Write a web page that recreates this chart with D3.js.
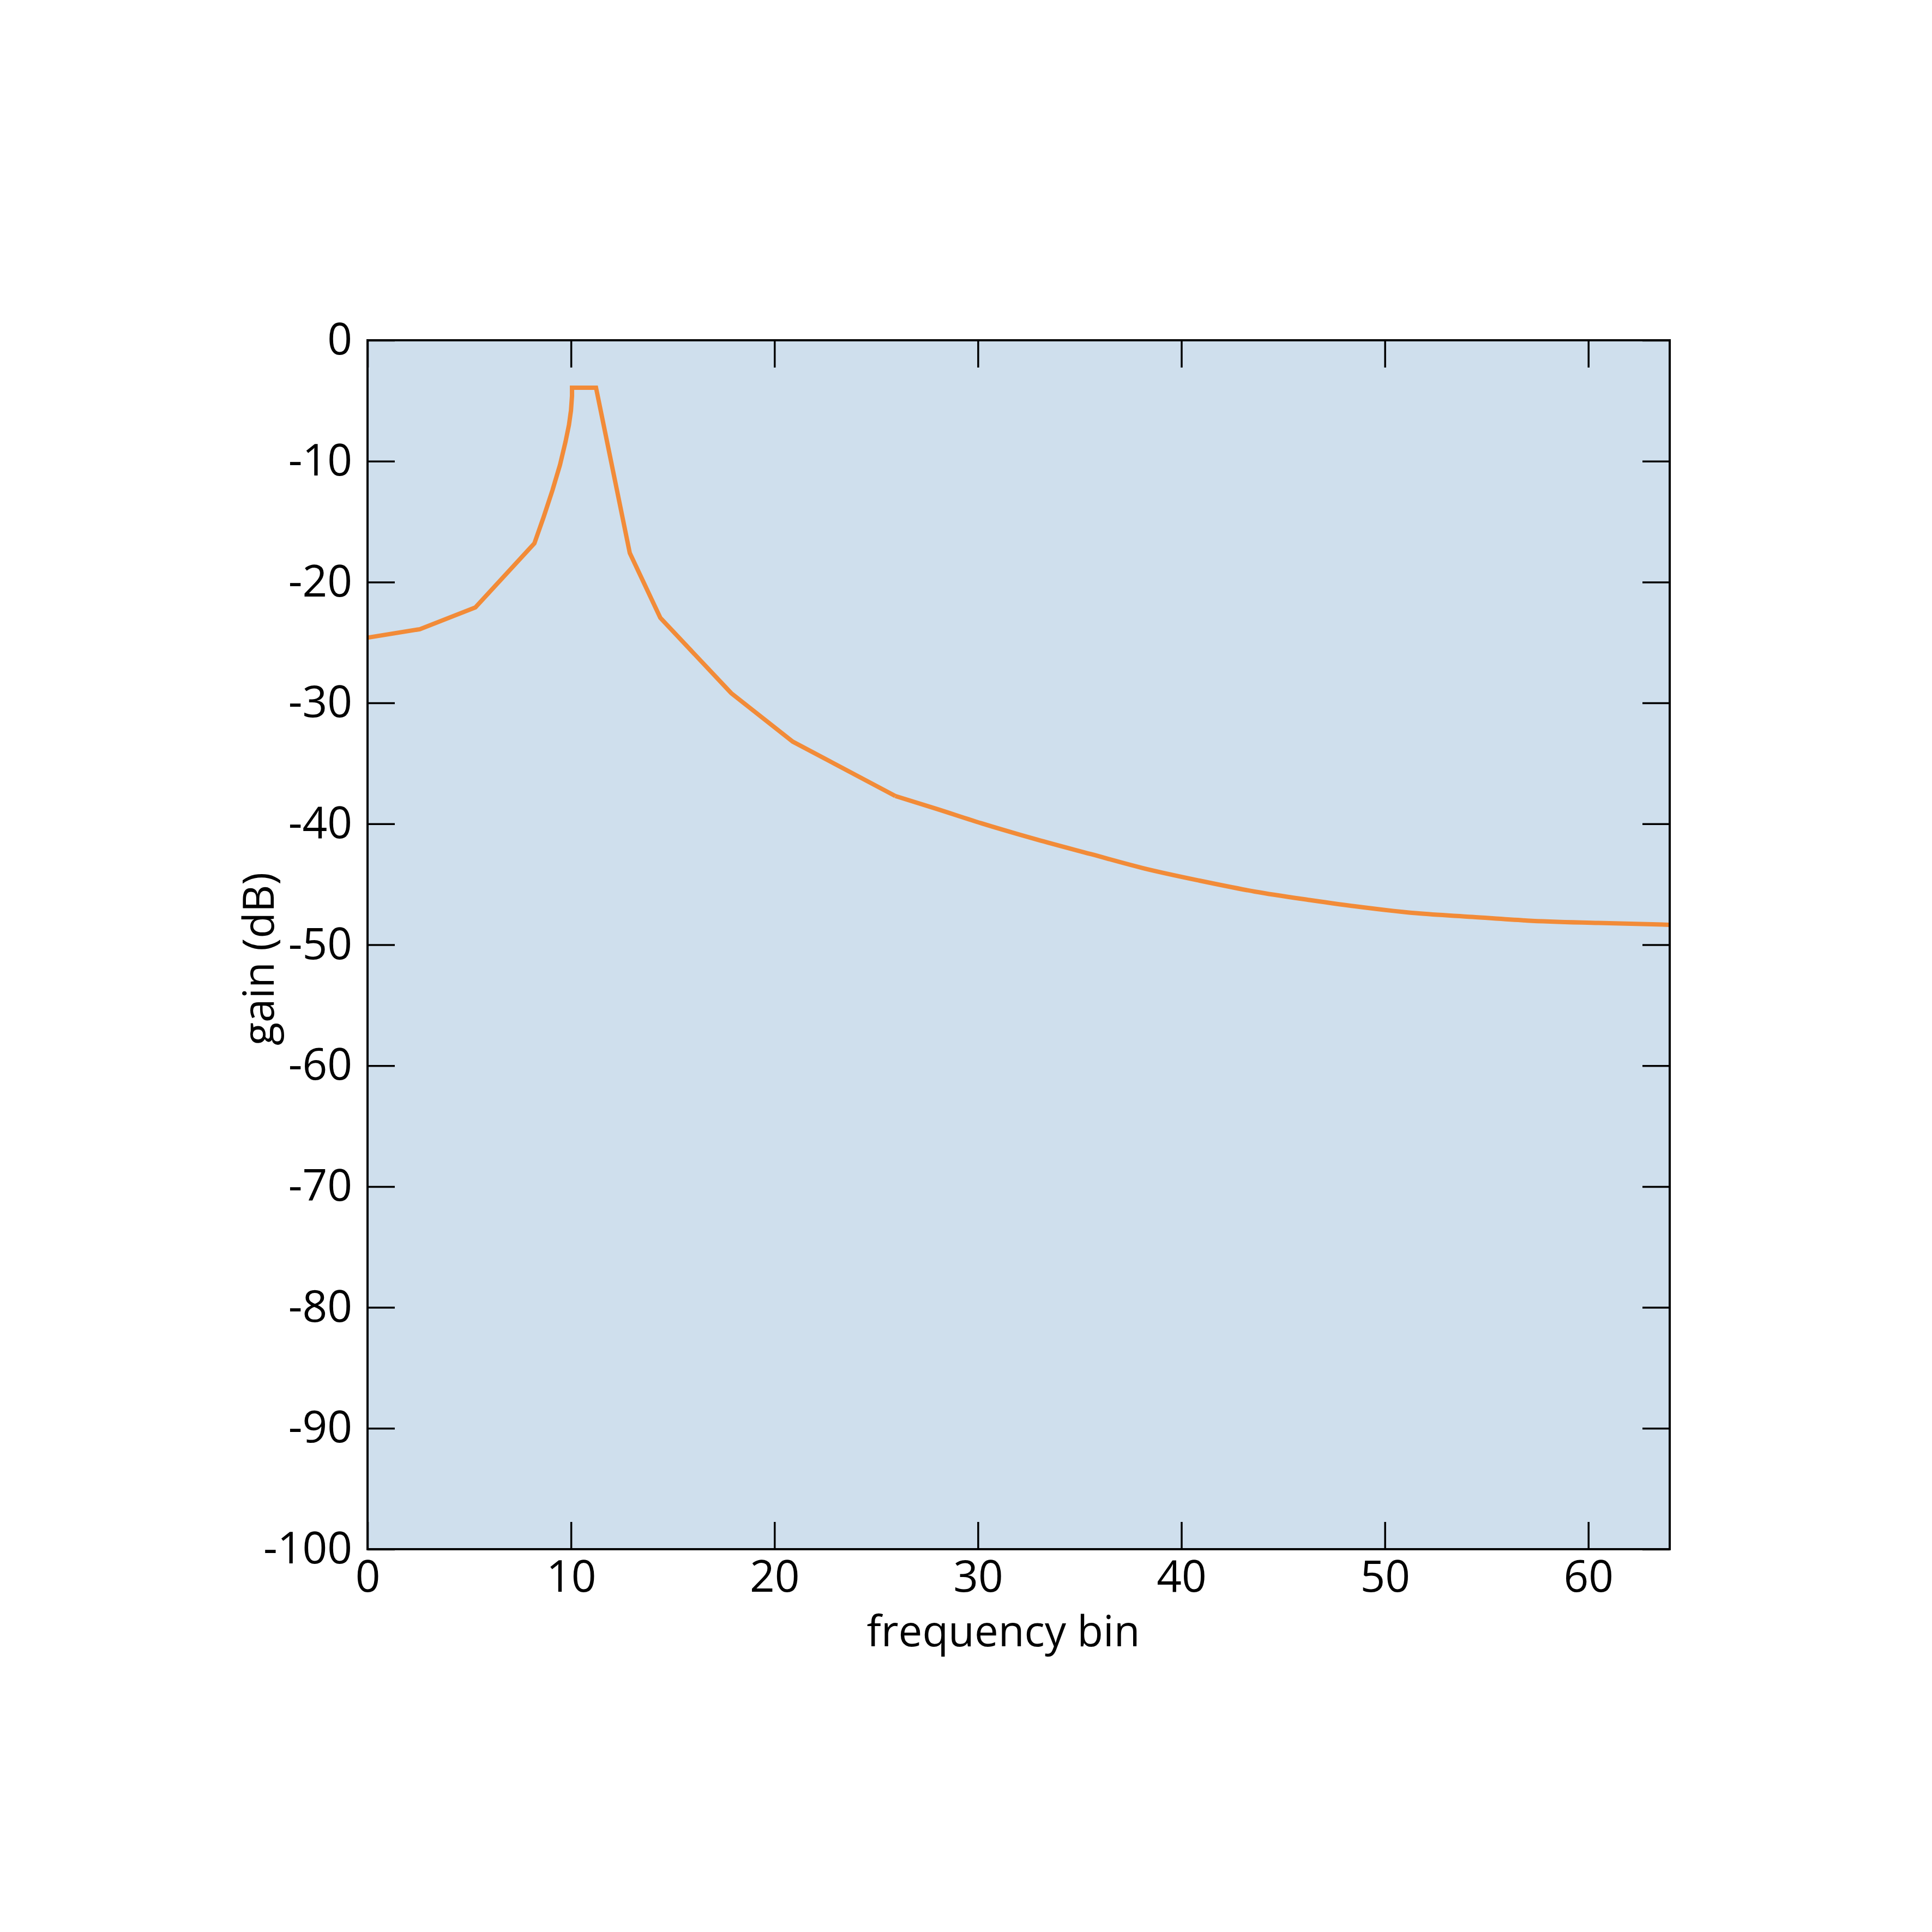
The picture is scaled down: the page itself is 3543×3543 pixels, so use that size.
<!DOCTYPE html>
<html>
<head>
<meta charset="utf-8">
<script src="https://cdn.jsdelivr.net/npm/d3@7"></script>
<style>
  body { margin: 0; background: #fff; }
  svg { display: block; }
</style>
</head>
<body>
<div id="viz"></div>
<script>
const width = 3543;
const height = 3543;
const margin = {top: 624, right: 481, bottom: 702, left: 674};
const font = '"Open Sans", sans-serif';

// frequency response
const bins = [0, 2.57, 5.3, 8.2, 8.66, 9.09, 9.46, 9.73, 9.9, 10.0, 10.05, 10.05, 11.23, 12.89, 14.39, 17.88, 20.9,
  25.94, 27.95, 30.18, 32.9, 35.54, 38.2, 40.9, 43.6, 46.3, 48.9, 51.6, 54.3, 57.0, 60.5, 64];
const gainDb = [-24.6, -23.9, -22.1, -16.8, -14.6, -12.4, -10.3, -8.4, -7.0, -5.8, -4.6, -3.92, -3.92, -17.6, -22.96, -29.2, -33.2,
  -37.7, -38.75, -39.96, -41.3, -42.5, -43.7, -44.7, -45.6, -46.3, -46.9, -47.4, -47.7, -48.0, -48.2, -48.35];
// index where the smooth tail starts
const tailStart = 17;

const xTicks = [0, 10, 20, 30, 40, 50, 60];
const yTicks = [0, -10, -20, -30, -40, -50, -60, -70, -80, -90, -100];

const xDomain = [0, 64];
const yDomain = [-100, 0];

const data = bins.map((b, i) => ({bin: b, gain: gainDb[i]}));

const scaleX = d3.scaleLinear()
  .domain(xDomain)
  .range([margin.left, width - margin.right]);

const scaleY = d3.scaleLinear()
  .domain(yDomain)
  .range([height - margin.bottom, margin.top]);

const svg = d3.select('#viz')
  .append('svg')
    .attr('width', width)
    .attr('height', height)
    .style('font-family', font);

svg.append('rect')
  .attr('width', width)
  .attr('height', height)
  .attr('fill', '#fff');

// plot background
svg.append('rect')
  .attr('x', scaleX(xDomain[0]))
  .attr('y', scaleY(yDomain[1]))
  .attr('width', scaleX(xDomain[1]) - scaleX(xDomain[0]))
  .attr('height', scaleY(yDomain[0]) - scaleY(yDomain[1]))
  .attr('fill', '#cfdfed');

// response line: straight pieces up to the knee, smooth tail after it
const line = d3.line()
  .x(d => scaleX(d.bin))
  .y(d => scaleY(d.gain));
const smoothLine = d3.line()
  .x(d => scaleX(d.bin))
  .y(d => scaleY(d.gain))
  .curve(d3.curveMonotoneX);

const lineGroup = svg.append('g')
  .attr('fill', 'none')
  .attr('stroke', '#f28b38')
  .attr('stroke-width', 8)
  .attr('stroke-linejoin', 'miter');
lineGroup.append('path')
  .attr('d', line(data.slice(0, tailStart + 1)));
lineGroup.append('path')
  .attr('d', smoothLine(data.slice(tailStart)));

const tickLen = 50;

// bottom axis
const axisBottom = d3.axisBottom(scaleX)
  .tickValues(xTicks)
  .tickSize(-tickLen)
  .tickPadding(21)
  .tickFormat(d => String(d));
svg.append('g')
  .attr('transform', `translate(0,${scaleY(yDomain[0])})`)
  .call(axisBottom);

// top axis, ticks only
svg.append('g')
  .attr('transform', `translate(0,${scaleY(yDomain[1])})`)
  .call(d3.axisTop(scaleX).tickValues(xTicks).tickSize(-tickLen).tickFormat(''));

// left axis
const axisLeft = d3.axisLeft(scaleY)
  .tickValues(yTicks)
  .tickSize(-tickLen)
  .tickPadding(28)
  .tickFormat(d => String(d));
svg.append('g')
  .attr('transform', `translate(${scaleX(xDomain[0])},0)`)
  .call(axisLeft);

// right axis, ticks only
svg.append('g')
  .attr('transform', `translate(${scaleX(xDomain[1])},0)`)
  .call(d3.axisRight(scaleY).tickValues(yTicks).tickSize(-tickLen).tickFormat(''));

svg.selectAll('.domain').remove();
svg.selectAll('.tick line')
  .attr('stroke', '#000')
  .attr('stroke-width', 3.5);
svg.selectAll('.tick text')
  .attr('fill', '#000')
  .style('font-family', font)
  .style('font-size', '80px');

// frame
svg.append('rect')
  .attr('x', scaleX(xDomain[0]))
  .attr('y', scaleY(yDomain[1]))
  .attr('width', scaleX(xDomain[1]) - scaleX(xDomain[0]))
  .attr('height', scaleY(yDomain[0]) - scaleY(yDomain[1]))
  .attr('fill', 'none')
  .attr('stroke', '#000')
  .attr('stroke-width', 4);

// axis titles
svg.append('text')
  .attr('x', (scaleX(xDomain[0]) + scaleX(xDomain[1])) / 2 - 28)
  .attr('y', scaleY(yDomain[0]) + 178)
  .attr('text-anchor', 'middle')
  .style('font-size', '78px')
  .text('frequency bin');

svg.append('text')
  .attr('transform', `translate(502,${(scaleY(yDomain[0]) + scaleY(yDomain[1])) / 2 + 26}) rotate(-90)`)
  .attr('text-anchor', 'middle')
  .style('font-size', '78px')
  .text('gain (dB)');
</script>
</body>
</html>
